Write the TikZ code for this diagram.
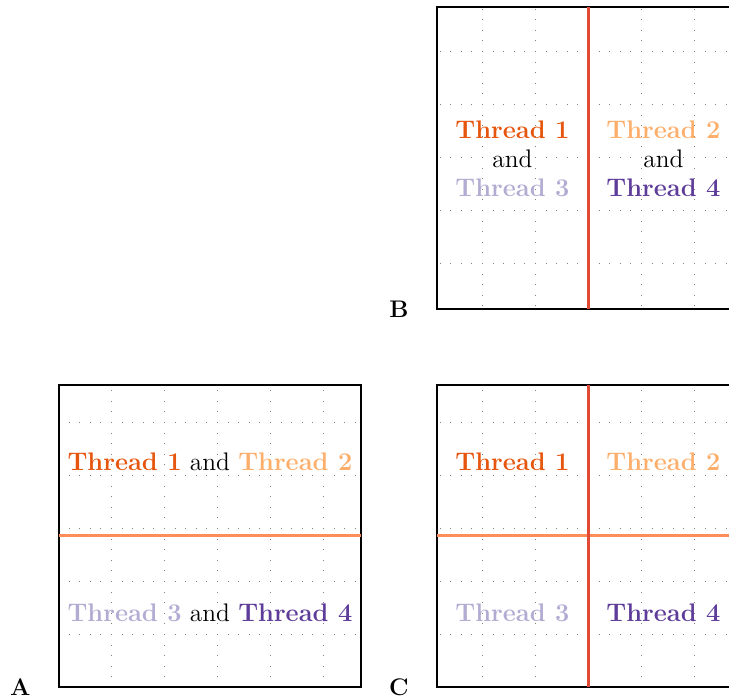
\documentclass[tikz,border=0pt]{standalone}
\usepackage{xcolor}
\usetikzlibrary{positioning}

\definecolor{thread1}{HTML}{E6550D}
\definecolor{thread2}{HTML}{FDAE6B}
\definecolor{thread3}{HTML}{B2ABD2}
\definecolor{thread4}{HTML}{5E3C99}
\definecolor{splitH}{HTML}{FC8D59}
\definecolor{splitV}{HTML}{E34A33}

\newcommand{\thrd}[2]{\textcolor{#1}{\textbf{Thread #2}}}

\begin{document}
\begin{tikzpicture}[
        x=0.5pt, y=0.5pt,
        panel/.style={draw, line width=0.6pt, minimum size=151pt, inner sep=0pt, outer sep=0pt},
        gridline/.style={black!50, line width=0.5pt, dash pattern=on 0.5pt off 4.8pt},
        hsplit/.style={splitH, line width=1.5pt},
        vsplit/.style={splitV, line width=1.5pt},
        txt/.style={font=\fontsize{12.7}{14.6}\selectfont, inner sep=0pt},
        tag/.style={font=\large\bfseries, inner sep=0pt},
        ]
        \path[use as bounding box, clip] (0,0) rectangle (729,700);

        % Panels
        \path (210,164) node[panel] (A) {};
        \path (588,542) node[panel] (B) {};
        \path (588,164) node[panel] (C) {};

        % Dotted grid, shared by the three panels
        \begin{scope}
            \clip (A.south west) rectangle (A.north east)
                  (B.south west) rectangle (B.north east)
                  (C.south west) rectangle (C.north east);
            \foreach \gx in {5,58,...,800}
                \draw[gridline] (\gx,-41) -- (\gx,760);
            \foreach \gy in {-41,12,...,760}
                \draw[gridline] (-48,\gy) -- (800,\gy);
        \end{scope}

        % Borders again on top of the grid
        \draw[line width=0.6pt] (A.south west) rectangle (A.north east);
        \draw[line width=0.6pt] (B.south west) rectangle (B.north east);
        \draw[line width=0.6pt] (C.south west) rectangle (C.north east);

        % Splits
        \draw[hsplit] (A.west) -- (A.east);
        \draw[vsplit] (B.north) -- (B.south);
        \draw[hsplit] (C.west) -- (C.east);
        \draw[vsplit] (C.north) -- (C.south);

        % Thread labels
        \node[txt] (a12) at (210,238) {\thrd{thread1}{1} and \thrd{thread2}{2}};
        \node[txt] (a34) at (210,87) {\thrd{thread3}{3} and \thrd{thread4}{4}};

        \node[txt, align=center] (b13) at (512.5,541) {\thrd{thread1}{1}\\and\\\thrd{thread3}{3}};
        \node[txt, align=center] (b24) at (663.5,541) {\thrd{thread2}{2}\\and\\\thrd{thread4}{4}};

        \node[txt] (c1) at (512.5,238) {\thrd{thread1}{1}};
        \node[txt] (c2) at (663.5,238) {\thrd{thread2}{2}};
        \node[txt] (c3) at (512.5,87) {\thrd{thread3}{3}};
        \node[txt] (c4) at (663.5,87) {\thrd{thread4}{4}};

        % Panel tags
        \node[tag, left=14pt of A.south west] (tagA) {A};
        \node[tag, left=14pt of B.south west] (tagB) {B};
        \node[tag, left=14pt of C.south west] (tagC) {C};

    \end{tikzpicture}
\end{document}
